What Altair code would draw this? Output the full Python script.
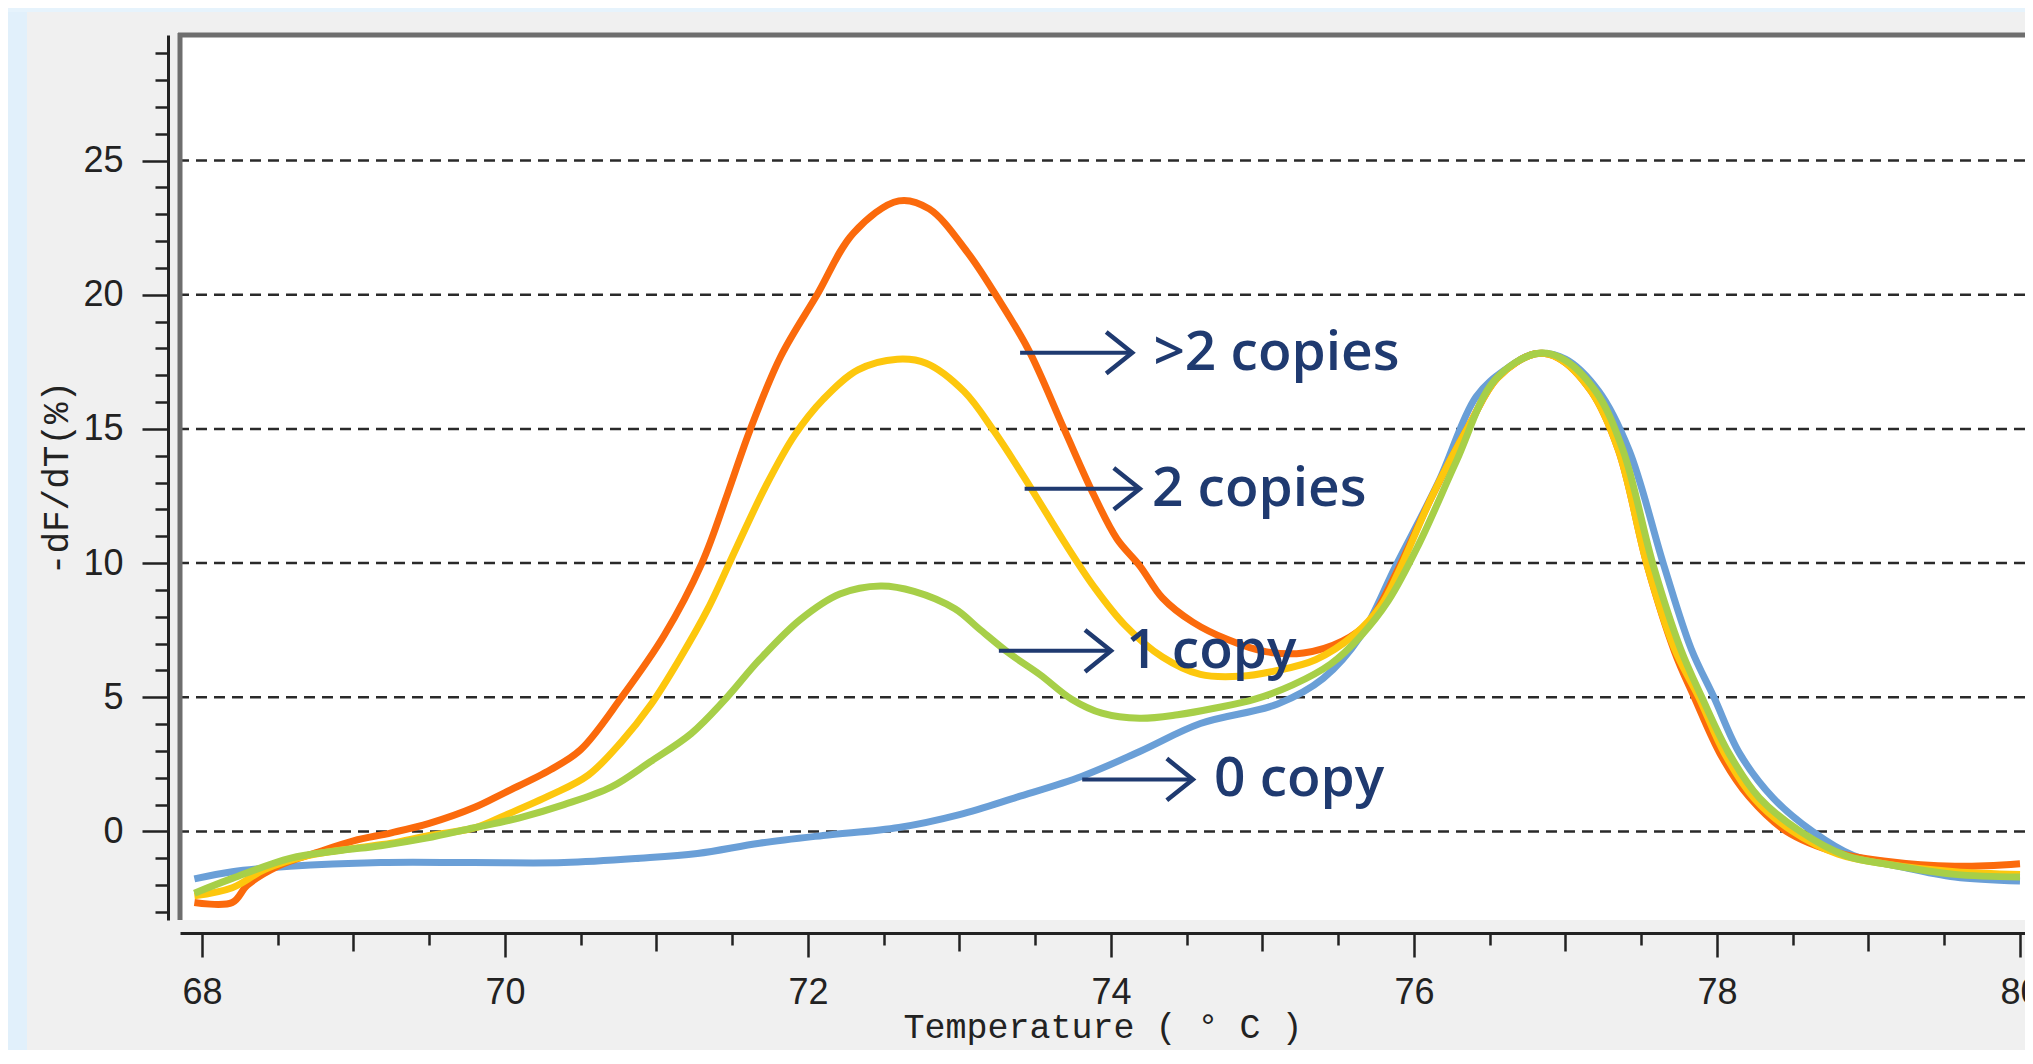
import altair as alt
import pandas as pd

# ---------------- data ----------------
series_names = [">2 copies", "2 copies", "1 copy", "0 copy"]
series_colors = ["#fb6a0c", "#fdc70d", "#a7cf48", "#6a9fd7"]

x_gt2 = [67.95, 68.2, 68.3, 68.5, 68.75, 69.0, 69.25, 69.5, 69.8, 70.0, 70.3, 70.5, 70.77, 71.05,
         71.3, 71.47, 71.62, 71.82, 72.06, 72.3, 72.6, 72.8, 73.05, 73.25, 73.46, 73.69,
         73.89, 74.04, 74.19, 74.34, 74.54, 74.77, 75.02, 75.27, 75.53, 75.7, 75.88, 76.12, 76.37,
         76.55, 76.8, 76.95, 77.17, 77.35, 77.54, 77.72, 77.85, 78.03, 78.21, 78.46, 78.8, 79.1,
         79.57, 80.0]
y_gt2 = [-2.65, -2.65, -2.0, -1.3, -0.8, -0.35, -0.05, 0.3, 0.9, 1.45, 2.3, 3.05, 5.0, 7.3,
         10.0, 12.6, 15.0, 17.7, 20.0, 22.3, 23.5, 23.2, 21.6, 19.9, 17.9, 15.0,
         12.5, 10.9, 9.9, 8.7, 7.8, 7.15, 6.7, 6.65, 7.1, 7.8, 9.6, 12.5, 15.2,
         16.9, 17.8, 17.65, 16.4, 14.2, 9.9, 6.7, 5.0, 2.8, 1.3, 0.0, -0.8, -1.1,
         -1.3, -1.2]

x_2 = [67.95, 68.2, 68.42, 68.7, 69.0, 69.25, 69.5, 69.8, 70.0, 70.3, 70.55, 70.77, 70.96, 71.15,
       71.34, 71.53, 71.72, 71.91, 72.1, 72.33, 72.59, 72.78, 73.03, 73.23, 73.46, 73.69, 73.89,
       74.09, 74.34, 74.59, 74.85, 75.1, 75.35, 75.6, 75.78, 75.9, 76.12, 76.37, 76.55, 76.8,
       76.95, 77.17, 77.35, 77.54, 77.72, 77.88, 78.05, 78.25, 78.5, 78.8, 79.1, 79.57, 80.0]
y_2 = [-2.4, -2.1, -1.4, -0.9, -0.63, -0.44, -0.15, 0.13, 0.6, 1.35, 2.1, 3.35, 4.7, 6.4,
       8.3, 10.6, 12.85, 14.75, 16.1, 17.2, 17.6, 17.45, 16.4, 14.9, 12.9, 10.8, 9.1,
       7.7, 6.5, 5.85, 5.78, 6.0, 6.4, 7.3, 8.4, 9.7, 12.5, 15.2, 16.9, 17.8,
       17.65, 16.4, 14.2, 9.9, 6.8, 5.0, 2.9, 1.2, 0.0, -0.85, -1.2, -1.5, -1.6]

x_1 = [67.95, 68.2, 68.58, 68.9, 69.18, 69.48, 69.79, 70.09, 70.39, 70.7, 70.96, 71.23, 71.45,
       71.68, 71.95, 72.21, 72.48, 72.7, 72.97, 73.13, 73.33, 73.53, 73.74, 73.94, 74.19, 74.44,
       74.69, 74.95, 75.2, 75.45, 75.65, 75.83, 76.03, 76.28, 76.53, 76.8, 76.97, 77.2, 77.38,
       77.58, 77.76, 77.9, 78.08, 78.28, 78.55, 78.85, 79.15, 79.57, 80.0]
y_1 = [-2.3, -1.75, -1.0, -0.72, -0.53, -0.25, 0.13, 0.5, 1.0, 1.65, 2.6, 3.65, 4.9,
       6.4, 7.9, 8.85, 9.15, 8.95, 8.3, 7.55, 6.63, 5.85, 4.93, 4.41, 4.22, 4.35,
       4.6, 4.93, 5.46, 6.24, 7.29, 8.59, 10.68, 13.8, 16.8, 17.8, 17.65, 16.4, 14.2,
       9.9, 6.8, 5.0, 2.9, 1.25, 0.0, -0.9, -1.25, -1.6, -1.7]

x_0 = [67.95, 68.2, 68.58, 69.18, 69.79, 70.39, 70.89, 71.27, 71.68, 72.1, 72.6, 73.0, 73.38,
       73.81, 74.19, 74.59, 75.1, 75.4, 75.65, 75.88, 76.16, 76.41, 76.6, 76.8, 77.0, 77.22,
       77.42, 77.65, 77.83, 77.98, 78.15, 78.37, 78.63, 78.9, 79.2, 79.57, 80.0]
y_0 = [-1.77, -1.5, -1.3, -1.16, -1.16, -1.16, -1.0, -0.82, -0.44, -0.15, 0.15, 0.63, 1.28,
       2.06, 2.98, 4.02, 4.75, 5.7, 7.3, 9.9, 13.0, 16.2, 17.2, 17.8, 17.6, 16.4,
       14.2, 9.9, 6.8, 5.0, 2.9, 1.25, 0.0, -0.9, -1.3, -1.7, -1.85]

grid_values = [0, 5, 10, 15, 20, 25]
x_tick_values = [68 + 0.5 * i for i in range(25)]
y_tick_values = list(range(-3, 30))

# annotation arrows (data units)
arrow_start = [73.40, 73.43, 73.26, 73.81]
arrow_end = [74.14, 74.19, 74.00, 74.54]
arrow_y = [17.84, 12.77, 6.73, 1.94]
label_x = [74.28, 74.27, 74.10, 74.68]

# ---------------- chart ----------------
W, H = 1845, 885
PAD = {"left": 172, "top": 27, "right": 0, "bottom": 130}
NAVY = "#1f3a70"
AX = "#222222"

xscale = alt.Scale(domain=[67.855, 80.033], nice=False, zero=False)
yscale = alt.Scale(domain=[-3.3, 29.68], nice=False, zero=False)

xaxis = alt.Axis(
    values=x_tick_values, format=".0f",
    tickSize={"condition": [{"test": "datum.value % 2 === 0", "value": 24},
                            {"test": "datum.value % 1 === 0", "value": 18}], "value": 12},
    labelExpr="datum.value % 2 === 0 ? datum.label : ''",
    offset=13, grid=False,
    domainColor=AX, domainWidth=3, tickColor=AX, tickWidth=2.5,
    labelFont="Liberation Sans", labelFontSize=36, labelColor=AX, labelPadding=18,
    labelOverlap=False, labelFlush=False, labelBound=False,
    title="Temperature ( ° C )", titleFont="Liberation Mono", titleFontSize=35,
    titleFontWeight="normal", titleColor=AX, titlePadding=-1,
)
yaxis = alt.Axis(
    values=y_tick_values, format=".0f",
    tickSize={"condition": {"test": "datum.value % 5 === 0", "value": 26}, "value": 13},
    labelExpr="datum.value % 5 === 0 ? datum.label : ''",
    offset=12, grid=False,
    domainColor=AX, domainWidth=3, tickColor=AX, tickWidth=2.5,
    labelFont="Liberation Sans", labelFontSize=36, labelColor=AX, labelPadding=19,
    labelOverlap=False, labelFlush=False, labelBound=False,
    title="-dF/dT(%)", titleFont="Liberation Mono", titleFontSize=36,
    titleFontWeight="normal", titleColor=AX, titlePadding=7,
)

X = lambda f: alt.X(f"{f}:Q", scale=xscale, axis=xaxis)
Y = lambda f: alt.Y(f"{f}:Q", scale=yscale, axis=yaxis)

one = alt.Data(values=[{}])

bg_left = alt.Chart(one).mark_rect(color="#e1f0fb").encode(
    x=alt.value(-PAD["left"]), x2=alt.value(-PAD["left"] + 19),
    y=alt.value(-PAD["top"]), y2=alt.value(H + PAD["bottom"]))
bg_top = alt.Chart(one).mark_rect(color="#e6f3fc").encode(
    x=alt.value(-PAD["left"]), x2=alt.value(W),
    y=alt.value(-PAD["top"]), y2=alt.value(-PAD["top"] + 4))

frame_top = alt.Chart(one).mark_rule(color="#6e6e6e", strokeWidth=5).encode(
    x=alt.value(-2), x2=alt.value(W), y=alt.value(0))
frame_left = alt.Chart(one).mark_rule(color="#6e6e6e", strokeWidth=5).encode(
    x=alt.value(0), y=alt.value(-2), y2=alt.value(H))

grid_df = pd.DataFrame({"y": grid_values})
grid = alt.Chart(grid_df).mark_rule(color="#2a2a2a", strokeWidth=2.5, strokeDash=[11, 7]).encode(
    y=Y("y"))

curves = [(x_0, y_0, 3), (x_gt2, y_gt2, 0), (x_2, y_2, 1), (x_1, y_1, 2)]
line_layers = []
for xs, ys, idx in curves:
    df = pd.DataFrame({"x": xs, "y": ys, "series": series_names[idx]})
    line_layers.append(
        alt.Chart(df).mark_line(color=series_colors[idx], strokeWidth=7, interpolate="catmull-rom")
        .encode(x=X("x"), y=Y("y"))
    )

arrow_df = pd.DataFrame({"x": arrow_start, "x2": arrow_end, "y": arrow_y,
                         "tx": label_x, "label": series_names})
shafts = alt.Chart(arrow_df).mark_rule(color=NAVY, strokeWidth=4).encode(
    x=X("x"), x2="x2:Q", y=Y("y"))
heads = alt.Chart(arrow_df).mark_point(
    shape="M-1,-0.8L0,0L-1,0.8", filled=False, size=2700, strokeWidth=4.5,
    color=NAVY, opacity=1).encode(x=X("x2"), y=Y("y"))
texts = alt.Chart(arrow_df).mark_text(
    align="left", baseline="middle", font="Open Sans", fontSize=55, fontWeight=600,
    color=NAVY).encode(x=X("tx"), y=Y("y"), text="label:N")

chart = alt.layer(
    bg_left, bg_top, grid, *line_layers, frame_top, frame_left, shafts, heads, texts
).properties(
    width=W, height=H, padding=PAD, autosize="none", background="#f0f0f0"
).configure_view(fill="white", stroke=None)

chart.save("out.html", embed_options={"renderer": "svg", "actions": False})
